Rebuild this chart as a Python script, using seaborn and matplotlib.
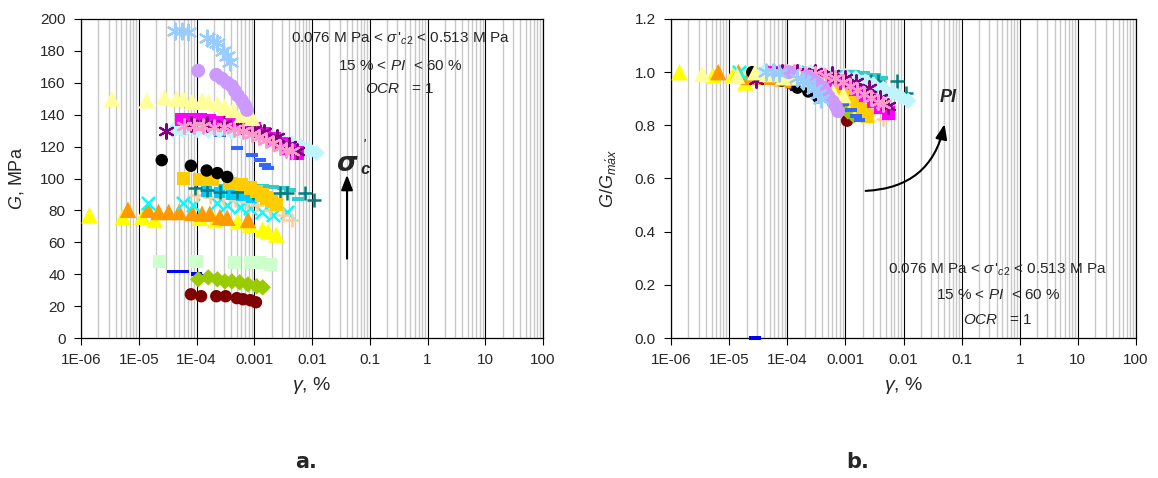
import numpy as np
import pandas as pd
import matplotlib
matplotlib.use('Agg')
import matplotlib.pyplot as plt
import seaborn as sns
from matplotlib.ticker import LogLocator, NullFormatter, FixedLocator, FixedFormatter

# ---------------- data ----------------
lightblue_x = [4.3e-5, 5.6e-5, 7.1e-5, 1.5e-4, 1.9e-4, 2.3e-4, 2.9e-4, 3.4e-4, 3.8e-4]
lightblue_g = [192.5, 192.5, 192, 188, 186, 185, 180, 177, 173]

lavender_x = [1.07e-4, 2.2e-4, 2.76e-4, 3.4e-4, 4.1e-4, 4.6e-4, 5.2e-4, 6.1e-4, 6.9e-4, 7.5e-4]
lavender_g = [167.6, 165, 162.6, 160, 158, 155, 152, 149, 146, 143]

paleyellow_x = [3.45e-6, 1.37e-5, 2.8e-5, 4.5e-5, 5.9e-5, 8.4e-5, 1.25e-4, 1.6e-4, 2.3e-4, 3.1e-4, 4.3e-4, 6.1e-4, 9.2e-4]
paleyellow_g = [150, 149, 151, 150, 150, 148, 149, 148, 147, 145, 143, 140, 138]

magenta_x = [5.6e-5, 7.8e-5, 1.15e-4, 1.7e-4, 2.5e-4, 4e-4, 6e-4, 1e-3, 1.5e-3, 2.2e-3, 3e-3, 4e-3, 5.5e-3]
magenta_g = [137, 137, 137, 136, 135, 134, 133, 131, 128, 125, 122, 119, 116]

purple_x = [2.95e-5, 8e-5, 1.5e-4, 3e-4, 6e-4, 1e-3, 1.5e-3, 2.5e-3, 4e-3, 5.5e-3]
purple_g = [130, 134, 134, 134, 133, 131, 129, 126, 121, 117]

lightcyan_x = [4e-5, 6e-5, 1e-4, 1.6e-4, 2.5e-4, 4e-4, 6e-4, 1e-3, 1.5e-3, 2.2e-3, 3e-3, 4.5e-3, 6.5e-3, 9e-3, 1.2e-2]
lightcyan_g = [130, 130, 130, 130, 130, 129.5, 129, 128, 127, 125.5, 124, 122, 120, 118, 116]

pink_x = [6e-5, 9e-5, 1.3e-4, 2e-4, 3e-4, 4.5e-4, 6.5e-4, 9e-4, 1.2e-3, 1.6e-3, 2.1e-3, 2.8e-3, 3.6e-3, 4.5e-3]
pink_g = [133, 133, 133, 132, 132, 131, 130, 128, 126, 124, 122, 120, 118, 117]

midblue_x = [1.0e-4, 2.57e-4, 5e-4, 9.1e-4, 1.25e-3, 1.54e-3, 1.74e-3]
midblue_g = [130, 127, 119, 114.6, 111.5, 108.4, 106.5]

black_x = [2.5e-5, 8e-5, 1.5e-4, 2.3e-4, 3.4e-4]
black_g = [111.5, 108, 105, 103.4, 101]

gold_x = [5.9e-5, 1.15e-4, 1.85e-4, 3.8e-4, 6.1e-4, 8.5e-4, 1.1e-3, 1.36e-3, 1.65e-3, 2.0e-3, 2.4e-3]
gold_g = [100, 99.6, 99.6, 97, 96, 94, 91.6, 89.7, 87.8, 85.4, 83.5]

teal_x = [3e-4, 6e-4, 1e-3, 1.4e-3, 2.1e-3, 3.2e-3, 4.2e-3, 5.7e-3]
teal_g = [95, 95, 95, 95, 94.7, 94, 93, 87]

darkteal_x = [9.3e-5, 1.5e-4, 2.6e-4, 5e-4, 9.5e-4, 2.8e-3, 3.7e-3, 7.6e-3, 1.1e-2]
darkteal_g = [94, 93, 91.6, 91.6, 91, 91, 91, 91, 86.6]

skyblue_x = [1.5e-4, 2.5e-4, 4e-4, 6e-4, 9e-4]
skyblue_g = [92, 91, 90, 89, 88]

peach_x = [1e-4, 1.7e-4, 2.9e-4, 4.6e-4, 7.5e-4, 1.1e-3, 1.9e-3, 3.1e-3, 4.5e-3]
peach_g = [89.7, 88.5, 87.8, 86.6, 85.4, 83.5, 80.4, 77.3, 74]

cyanx_x = [1.45e-5, 5.9e-5, 8.7e-5, 2.3e-4, 3.4e-4, 5.6e-4, 8.5e-4, 1.36e-3, 2.1e-3, 3.7e-3]
cyanx_g = [84.7, 84.7, 83.5, 84.7, 83.5, 82, 81.6, 79, 77, 79]

yellow_x = [1.4e-6, 5.3e-6, 1.15e-5, 1.9e-5, 1.15e-4, 2.1e-4, 5.2e-4, 8.5e-4, 1.4e-3, 1.74e-3, 2.4e-3]
yellow_g = [77, 76, 76, 74, 75.4, 74, 73, 71, 68, 66.7, 64.8]

orange_x = [6.5e-6, 1.45e-5, 2.2e-5, 3.3e-5, 5e-5, 8.4e-5, 1.25e-4, 1.7e-4, 2.55e-4, 3.4e-4, 7.8e-4]
orange_g = [80.4, 80.4, 79, 79, 79, 78.5, 78, 78, 76, 75.4, 74]

palegreen_x = [2.3e-5, 1e-4, 4.6e-4, 8.5e-4, 1.26e-3, 1.9e-3]
palegreen_g = [48, 48, 47.4, 47.4, 47.4, 46]

blue_x = [3.9e-5, 5.9e-5, 1e-4, 1.4e-4]
blue_g = [41.7, 41.7, 40, 39]

ygreen_x = [1.07e-4, 1.6e-4, 2.3e-4, 3.1e-4, 4.1e-4, 5.6e-4, 7.8e-4, 1.1e-3, 1.4e-3]
ygreen_g = [36.8, 38, 36.8, 35.5, 35.5, 34.9, 33.6, 32.4, 31.8]

darkred_x = [8e-5, 1.2e-4, 2.2e-4, 3.2e-4, 5e-4, 6.4e-4, 8.5e-4, 1.07e-3]
darkred_g = [27.4, 26.2, 26.2, 26.2, 25, 24.3, 23.7, 22.4]

# point of panel b lying on the axis
b_outlier_x = [2.8e-5]
b_outlier_r = [0.0]

xtick_vals = [1e-6, 1e-5, 1e-4, 1e-3, 1e-2, 1e-1, 1, 10, 100]
xtick_labels = ['1E-06', '1E-05', '1E-04', '0.001', '0.01', '0.1', '1', '10', '100']
ya_ticks = [0, 20, 40, 60, 80, 100, 120, 140, 160, 180, 200]
yb_ticks = [0.0, 0.2, 0.4, 0.6, 0.8, 1.0, 1.2]
yb_labels = ['0.0', '0.2', '0.4', '0.6', '0.8', '1.0', '1.2']

# ---------------- styles ----------------
DASH = [(-1, -0.32), (1, -0.32), (1, 0.32), (-1, 0.32), (-1, -0.32)]
AST = (6, 2, 0)

series = [
    (palegreen_x, palegreen_g, '#CCFFCC', 's', 90, 1.0),
    (blue_x, blue_g, '#0000FF', DASH, 70, 1.0),
    (darkred_x, darkred_g, '#800000', 'o', 80, 1.0),
    (ygreen_x, ygreen_g, '#99CC00', 'D', 70, 1.0),
    (yellow_x, yellow_g, '#FFFF00', '^', 140, 1.0),
    (orange_x, orange_g, '#FF9900', '^', 140, 1.0),
    (cyanx_x, cyanx_g, '#00FFFF', 'x', 90, 1.8),
    (peach_x, peach_g, '#FFCC99', '+', 110, 1.8),
    (skyblue_x, skyblue_g, '#00CCFF', 's', 60, 1.0),
    (teal_x, teal_g, '#33CCCC', DASH, 80, 1.0),
    (darkteal_x, darkteal_g, '#008080', '+', 110, 1.8),
    (gold_x, gold_g, '#FFCC00', 's', 90, 1.0),
    (black_x, black_g, '#000000', 'o', 80, 1.0),
    (midblue_x, midblue_g, '#3366FF', DASH, 70, 1.0),
    (lightcyan_x, lightcyan_g, '#BFF5FA', 'D', 70, 1.0),
    (magenta_x, magenta_g, '#FF00FF', 's', 90, 1.0),
    (purple_x, purple_g, '#800080', AST, 110, 1.6),
    (pink_x, pink_g, '#FF99CC', AST, 110, 1.6),
    (paleyellow_x, paleyellow_g, '#FFFF99', '^', 140, 1.0),
    (lavender_x, lavender_g, '#CC99FF', 'o', 100, 1.0),
    (lightblue_x, lightblue_g, '#99CCFF', AST, 130, 1.6),
]

sns.set_style('white')
plt.rcParams['font.family'] = ['Liberation Sans', 'DejaVu Sans']
plt.rcParams['mathtext.fontset'] = 'custom'
plt.rcParams['mathtext.rm'] = 'Liberation Sans'
plt.rcParams['mathtext.it'] = 'Liberation Sans:italic'
plt.rcParams['mathtext.bf'] = 'Liberation Sans:bold'

fig = plt.figure(figsize=(11.58, 4.78), dpi=100)
W, H = 1158, 478
axa = fig.add_axes([81 / W, 1 - 338 / H, (543 - 81) / W, (338 - 19) / H])
axb = fig.add_axes([671 / W, 1 - 338 / H, (1136 - 671) / W, (338 - 19) / H])


def draw(ax, x, y, color, marker, s, lw, clip=True):
    df = pd.DataFrame({'x': x, 'y': y})
    filled = marker not in ('x', '+') and not isinstance(marker, tuple)
    if filled:
        sns.scatterplot(data=df, x='x', y='y', ax=ax, color=color, marker=marker,
                        s=s, linewidth=0, edgecolor='none', legend=False, clip_on=clip, zorder=3)
    else:
        sns.scatterplot(data=df, x='x', y='y', ax=ax, color=color, marker=marker,
                        s=s, linewidth=lw, legend=False, clip_on=clip, zorder=3)


for x, g, c, m, s, lw in series:
    draw(axa, x, g, c, m, s, lw)
    g = np.asarray(g, dtype=float)
    draw(axb, x, g / g.max(), c, m, s, lw)
draw(axb, b_outlier_x, b_outlier_r, '#0000FF', DASH, 70, 1.0, clip=False)

for ax in (axa, axb):
    ax.set_xscale('log')
    ax.set_xlim(1e-6, 100)
    ax.xaxis.set_major_locator(FixedLocator(xtick_vals))
    ax.xaxis.set_major_formatter(FixedFormatter(xtick_labels))
    ax.xaxis.set_minor_locator(LogLocator(base=10, subs=np.arange(2, 10), numticks=100))
    ax.xaxis.set_minor_formatter(NullFormatter())
    ax.grid(True, which='minor', axis='x', color='#C8C8C8', linewidth=1.0, zorder=0)
    ax.grid(True, which='major', axis='x', color='black', linewidth=0.8, zorder=0)
    ax.set_axisbelow(True)
    ax.tick_params(axis='both', which='major', direction='out', length=5, width=0.8,
                   labelsize=11, color='black', bottom=True, left=True, pad=6)
    ax.tick_params(axis='x', which='minor', length=0)
    for sp in ax.spines.values():
        sp.set_color('black')
        sp.set_linewidth(0.9)
    ax.set_xlabel(r'$\gamma$, %', fontsize=14)
    ax.xaxis.set_label_coords(0.5, -0.115)

axa.set_ylim(0, 200)
axa.set_yticks(ya_ticks)
axa.set_ylabel('$G$, MPa', fontsize=13)
axa.yaxis.set_label_coords(-0.118, 0.5)

axb.set_ylim(0, 1.2)
axb.set_yticks(yb_ticks)
axb.set_yticklabels(yb_labels)
axb.set_ylabel('$G/G_{m\\acute{a}x}$', fontsize=13)
axb.yaxis.set_label_coords(-0.113, 0.5)

# ---------- annotations panel a ----------
tkw = dict(ha='center', va='center', fontsize=11)
axa.text(0.334, 187.5, "0.076 M Pa < $\\sigma\\,'_{c2}$ < 0.513 M Pa", **tkw)
axa.text(0.334, 170.7, '15 % < $PI$  < 60 %', **tkw)
axa.text(0.334, 156.4, '$OCR$   = 1', **tkw)
axa.annotate('', xy=(0.0404, 104), xytext=(0.0404, 48),
             arrowprops=dict(arrowstyle='-|>,head_length=0.9,head_width=0.35',
                             color='black', lw=1.5))
axa.text(0.040, 109, 'σ', fontsize=19, fontweight='bold', style='italic',
         ha='center', va='center', family='DejaVu Sans')
axa.text(0.082, 105.5, 'c', fontsize=12, fontweight='bold', style='italic',
         ha='center', va='center')
axa.text(0.078, 121, "'", fontsize=10, style='italic', ha='center', va='center')

# ---------- annotations panel b ----------
axb.text(0.42, 0.257, "0.076 M Pa < $\\sigma\\,'_{c2}$ < 0.513 M Pa", **tkw)
axb.text(0.42, 0.162, '15 % < $PI$  < 60 %', **tkw)
axb.text(0.42, 0.068, '$OCR$   = 1', **tkw)
axb.annotate('', xy=(0.052, 0.815), xytext=(2.0e-3, 0.553),
             arrowprops=dict(arrowstyle='-|>,head_length=0.9,head_width=0.35',
                             connectionstyle='arc3,rad=0.4', color='black', lw=1.5))
axb.text(0.058, 0.905, 'PI', fontsize=13, fontweight='bold', style='italic',
         ha='center', va='center')

fig.text(306 / W, 1 - 462 / H, 'a.', fontsize=15, fontweight='bold', ha='center',
         va='center', family='DejaVu Sans')
fig.text(858 / W, 1 - 462 / H, 'b.', fontsize=15, fontweight='bold', ha='center',
         va='center', family='DejaVu Sans')

fig.savefig('out.png', dpi=100)
